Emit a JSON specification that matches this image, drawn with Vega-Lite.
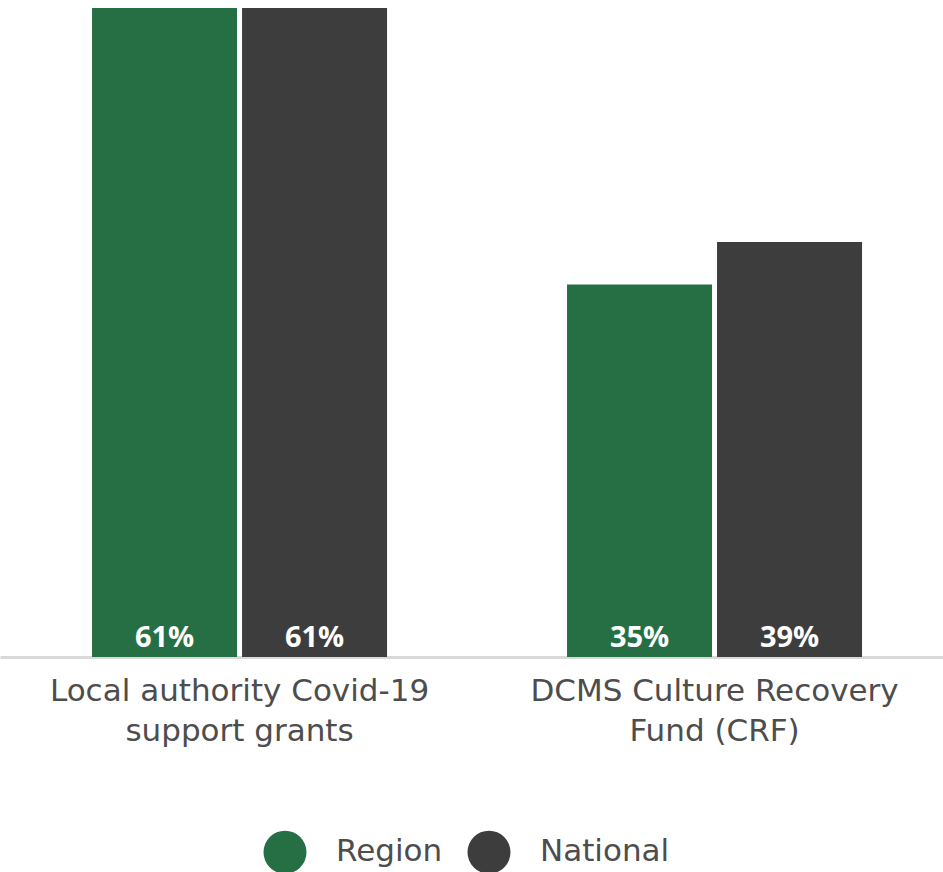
{
  "$schema": "https://vega.github.io/schema/vega-lite/v6.json",
  "width": 943,
  "height": 649,
  "autosize": {"type": "none"},
  "padding": {"left": 0, "top": 8, "right": 0, "bottom": 215},
  "background": "white",
  "config": {"view": {"stroke": null}, "font": "Open Sans"},
  "data": {
    "values": [
      {"category": "Local authority Covid-19 support grants", "group": "Region", "value": 0.61},
      {"category": "Local authority Covid-19 support grants", "group": "National", "value": 0.61},
      {"category": "DCMS Culture Recovery Fund (CRF)", "group": "Region", "value": 0.35},
      {"category": "DCMS Culture Recovery Fund (CRF)", "group": "National", "value": 0.39}
    ]
  },
  "encoding": {
    "x": {
      "field": "category",
      "type": "nominal",
      "sort": null,
      "scale": {"paddingInner": 0.3789, "paddingOuter": 0.1821, "align": 0.532},
      "axis": {
        "title": null,
        "labelAngle": 0,
        "ticks": false,
        "domainColor": "#d9d9d9",
        "domainWidth": 3,
        "labelFont": "DejaVu Sans",
        "labelFontSize": 31,
        "labelColor": "#4d4d4d",
        "labelPadding": 19,
        "labelLineHeight": 40,
        "labelLimit": 0,
        "labelExpr": "datum.label == 'Local authority Covid-19 support grants' ? ['Local authority Covid-19', 'support grants'] : ['DCMS Culture Recovery', 'Fund (CRF)']"
      }
    },
    "xOffset": {
      "field": "group",
      "type": "nominal",
      "sort": ["Region", "National"],
      "scale": {"paddingInner": 0.0333, "paddingOuter": 0}
    },
    "y": {
      "field": "value",
      "type": "quantitative",
      "scale": {"domain": [0, 0.61], "nice": false},
      "axis": null
    }
  },
  "layer": [
    {
      "mark": {"type": "bar"},
      "encoding": {
        "color": {
          "field": "group",
          "type": "nominal",
          "sort": ["Region", "National"],
          "scale": {"domain": ["Region", "National"], "range": ["#266f45", "#3d3d3d"]},
          "legend": {
            "title": null,
            "orient": "none",
            "direction": "horizontal",
            "legendX": 263,
            "legendY": 822,
            "symbolType": "circle",
            "symbolSize": 1850,
            "symbolStrokeWidth": 0,
            "symbolOpacity": 1,
            "labelFont": "DejaVu Sans",
            "labelFontSize": 31,
            "labelColor": "#4d4d4d",
            "labelBaseline": "middle",
            "labelOffset": 29,
            "columnPadding": 24
          }
        }
      }
    },
    {
      "mark": {"type": "text", "color": "white", "fontWeight": "bold", "fontSize": 29, "baseline": "alphabetic", "dy": -10},
      "encoding": {
        "y": {"datum": 0},
        "text": {"field": "value", "type": "quantitative", "format": ".0%"}
      }
    }
  ]
}
